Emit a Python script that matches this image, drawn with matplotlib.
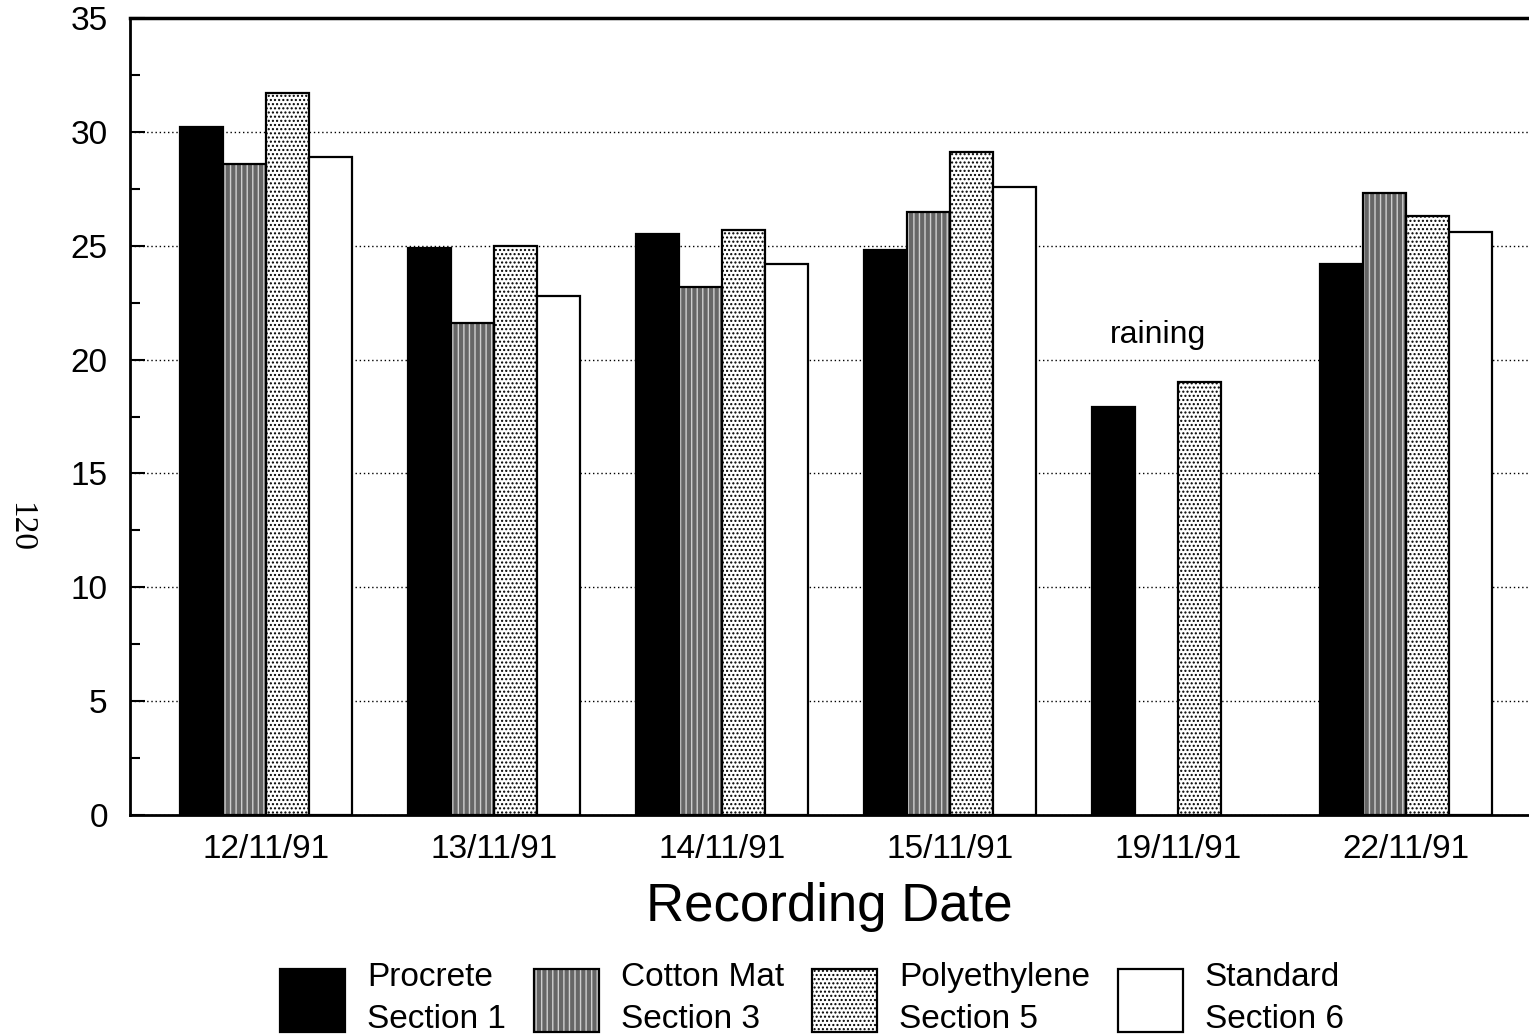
import numpy as np
import matplotlib
matplotlib.use("Agg")
import matplotlib.pyplot as plt
from matplotlib.patches import Patch
from matplotlib.ticker import MultipleLocator

# Recording dates and measured values per curing method
dates = ["12/11/91", "13/11/91", "14/11/91", "15/11/91", "19/11/91", "22/11/91"]
procrete = [30.2, 24.9, 25.5, 24.8, 17.9, 24.2]
cotton_mat = [28.6, 21.6, 23.2, 26.5, np.nan, 27.3]
polyethylene = [31.7, 25.0, 25.7, 29.1, 19.0, 26.3]
standard = [28.9, 22.8, 24.2, 27.6, np.nan, 25.6]
series_labels = ["Procrete\nSection 1", "Cotton Mat\nSection 3",
                 "Polyethylene\nSection 5", "Standard\nSection 6"]
yticks = [0, 5, 10, 15, 20, 25, 30, 35]

plt.rcParams["font.family"] = ["Liberation Sans", "DejaVu Sans"]
plt.rcParams["hatch.linewidth"] = 1.0

fig = plt.figure(figsize=(15.29, 10.36), dpi=100)
ax = fig.add_axes([130 / 1529, 1 - 815 / 1036, 1 - 130 / 1529, (815 - 18) / 1036])

x = np.arange(len(dates))
w = 0.1886
offsets = [-1.5 * w, -0.5 * w, 0.5 * w, 1.5 * w]
edge_lw = 1.6

# Procrete: solid black
ax.bar(x + offsets[0], procrete, w, color="black", edgecolor="black",
       linewidth=edge_lw, zorder=3)

# Cotton mat: dark grey with pale vertical streaks
ax.bar(x + offsets[1], cotton_mat, w, facecolor="#666666", edgecolor="#cfcfcf",
       hatch="|||", linewidth=0, zorder=3)
ax.bar(x + offsets[1], cotton_mat, w, fill=False, edgecolor="black",
       linewidth=edge_lw, zorder=4)

# Polyethylene: white with black dot screen
ax.bar(x + offsets[2], polyethylene, w, facecolor="white", edgecolor="black",
       hatch="....", linewidth=edge_lw, zorder=3)

# Standard: plain white
ax.bar(x + offsets[3], standard, w, facecolor="white", edgecolor="black",
       linewidth=edge_lw, zorder=3)

ax.set_xlim(-0.596, 5.539)
ax.set_ylim(0, 35)
ax.set_yticks(yticks)
ax.yaxis.set_minor_locator(MultipleLocator(2.5))
ax.set_xticks(x)
ax.set_xticklabels(dates)

ax.tick_params(axis="y", which="major", direction="in", length=11, width=1.5,
               pad=16, labelsize=24)
ax.tick_params(axis="y", which="minor", direction="in", length=7, width=1.5)
ax.tick_params(axis="x", length=0, pad=14, labelsize=24)

ax.grid(axis="y", which="major", linestyle=(0, (1, 2)), color="black",
        linewidth=1.0)
ax.set_axisbelow(True)

for side in ("left", "bottom"):
    ax.spines[side].set_linewidth(2.0)
ax.spines["top"].set_linewidth(2.5)
ax.spines["right"].set_visible(False)

ax.set_xlabel("Recording Date", fontsize=38, labelpad=12)

ax.text(3.91, 21.1, "raining", ha="center", va="center", fontsize=23)

# Page number in the margin
fig.text(0.013, 0.491, "120", rotation=-90, ha="center", va="center",
         fontsize=24, family=["Liberation Serif", "DejaVu Serif"])

# Legend
handles = [
    Patch(facecolor="black", edgecolor="black", linewidth=edge_lw),
    (Patch(facecolor="#666666", edgecolor="#cfcfcf", hatch="|||", linewidth=0),
     Patch(fill=False, edgecolor="black", linewidth=edge_lw)),
    Patch(facecolor="white", edgecolor="black", hatch="....", linewidth=edge_lw),
    Patch(facecolor="white", edgecolor="black", linewidth=edge_lw),
]
leg = fig.legend(handles, series_labels, loc="upper center",
                 bbox_to_anchor=(812 / 1529, 1 - 962 / 1036), ncol=4,
                 frameon=False, fontsize=24, handlelength=1.95, handleheight=2.55,
                 handletextpad=0.65, columnspacing=0.85, borderaxespad=0,
                 borderpad=0)
for t in leg.get_texts():
    t.set_linespacing(1.45)

fig.savefig("out.png", dpi=100)
